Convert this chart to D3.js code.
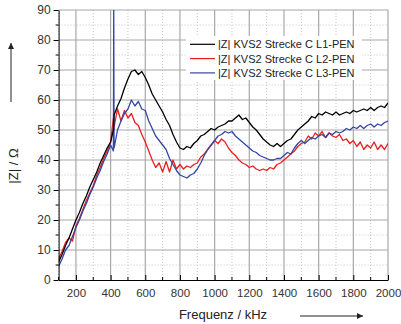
<!DOCTYPE html>
<html>
<head>
<meta charset="utf-8">
<script src="https://cdn.jsdelivr.net/npm/d3@7"></script>
<style>
  html, body { margin: 0; padding: 0; background: #fff; }
  svg { display: block; font-family: "Liberation Sans", Arial, sans-serif; }
</style>
</head>
<body>
<svg id="chart" width="401" height="324"></svg>
<script>
// frequency grid in kHz (extra points around the 418 kHz spike)
const freq = [100,120,140,160,180,200,220,240,260,280,300,320,340,360,380,400,416,418,420,
  440,460,480,500,520,540,560,580,600,620,640,660,680,700,720,740,760,780,800,820,840,860,880,
  900,920,940,960,980,1000,1020,1040,1060,1080,1100,1120,1140,1160,1180,1200,1220,1240,1260,
  1280,1300,1320,1340,1360,1380,1400,1420,1440,1460,1480,1500,1520,1540,1560,1580,1600,1620,
  1640,1660,1680,1700,1720,1740,1760,1780,1800,1820,1840,1860,1880,1900,1920,1940,1960,1980,2000];

const zL1 = [6,8.5,11.5,14,17,20,22.5,25.5,28,31,33.5,36,39,41.5,44,46,50,52,55,
  58,60.5,64,67,69.5,70,68.5,69.5,67.5,65,62,60,58,56,53.5,51.5,48.5,46,44,43.5,44.5,44,45.5,
  46.5,48,48.5,49.5,50.5,50,51,51.5,52,53,53,54,55,53.5,54,52.5,51,50,48.5,
  47,46,45,44.5,45.5,44.5,45.5,46.5,47,48.5,50,51,52,53,54.5,54,55.5,55,
  56,55.5,55,56,55,55.5,56,55.5,56.5,56,56.5,57,56.5,57.5,56.5,57.5,58,57.5,59];

const zL2 = [7,9.5,12.5,14,13,18,20.5,23.5,26.5,29,31.5,35,37.5,40.5,43,46,54,50,51,
  57,53,56.5,54,55.5,52.5,51.5,48.5,46,43,40,37.5,39,36,39.5,36,40,37,38.5,37,38,37.5,38.5,
  39,41,42,43.5,45,46.5,45.5,47,46,44,42.5,41.5,40,39,38.5,37.5,38,37,36.5,
  37,36.5,37.5,37,38.5,39,40,41,42,43,44.5,45.5,46,48,47,49,48,49.5,
  47.5,49,48,47.5,48.5,46.5,47,45.5,46.5,44.5,46,43.5,45,44,46,43.5,45,43.5,45.5];

const zL3 = [4.5,7,10,11.5,14.5,17.5,20,23,25.5,28.5,31,34,36.5,39.5,42,45,43,92,44,
  50,53,55.5,57,60,58,59.5,57,56.5,53,50.5,48,46.5,45,43.5,40.5,38.5,36.5,35,34.5,34,35,35.5,
  37,39,41.5,43.5,45,46.5,48,48.5,49.5,49,49.5,48,47,46,45,44,43,42.5,41.5,
  41,40.5,40,40,40.5,40.5,41.5,42.5,42,44,45.5,46.5,45.5,46.5,47.5,47,48,48.5,
  47.5,49,48.5,49.5,49,49.5,50.5,50,51,50.5,51.5,50.5,51.5,52,51,52,51.5,52.5,53];

const seriesNames = ["|Z| KVS2 Strecke C L1-PEN", "|Z| KVS2 Strecke C L2-PEN", "|Z| KVS2 Strecke C L3-PEN"];
const seriesColors = ["#000000", "#ee1d1d", "#3445a4"];
const xTicks = [200,400,600,800,1000,1200,1400,1600,1800,2000];
const yTicks = [0,10,20,30,40,50,60,70,80,90];

const pL = 58.6, pR = 388, pT = 10, pB = 280;

const svg = d3.select("#chart");

const x = d3.scaleLinear().domain([100, 2000]).range([pL, pR]);
const y = d3.scaleLinear().domain([0, 90]).range([pB, pT]);

// minor grid (dotted)
const minorX = d3.range(100, 2001, 100).filter(v => v % 200 !== 0);
const minorY = d3.range(5, 90, 10);
const grid = svg.append("g");
grid.selectAll(".mx").data(minorX).enter().append("line")
  .attr("x1", d => x(d)).attr("x2", d => x(d))
  .attr("y1", pT).attr("y2", pB)
  .attr("stroke", "#c4c4c4").attr("stroke-width", 1).attr("stroke-dasharray", "1,2");
grid.selectAll(".my").data(minorY).enter().append("line")
  .attr("x1", pL).attr("x2", pR)
  .attr("y1", d => y(d)).attr("y2", d => y(d))
  .attr("stroke", "#c4c4c4").attr("stroke-width", 1).attr("stroke-dasharray", "1,2");

// major grid
grid.selectAll(".gx").data(xTicks).enter().append("line")
  .attr("x1", d => x(d)).attr("x2", d => x(d))
  .attr("y1", pT).attr("y2", pB)
  .attr("stroke", "#a8a8a8").attr("stroke-width", 1.2);
grid.selectAll(".gy").data(yTicks.filter(v => v > 0)).enter().append("line")
  .attr("x1", pL).attr("x2", pR)
  .attr("y1", d => y(d)).attr("y2", d => y(d))
  .attr("stroke", "#a8a8a8").attr("stroke-width", 1.2);

// curves
const defs = svg.append("defs");
defs.append("clipPath").attr("id", "clip")
  .append("rect").attr("x", pL).attr("y", pT).attr("width", pR - pL).attr("height", pB - pT);

const line = d3.line().x((d, i) => x(freq[i])).y(d => y(d));
const plot = svg.append("g").attr("clip-path", "url(#clip)");
const drawOrder = [[zL2, 1], [zL3, 2], [zL1, 0]];
drawOrder.forEach(([s, idx]) => {
  plot.append("path").datum(s)
    .attr("d", line)
    .attr("fill", "none")
    .attr("stroke", seriesColors[idx])
    .attr("stroke-width", 1.3)
    .attr("stroke-linejoin", "round");
});

// legend
const lg = svg.append("g");
lg.append("rect").attr("x", 186).attr("y", 36).attr("width", 176).attr("height", 44).attr("fill", "#fff");
seriesNames.forEach((name, i) => {
  const ly = 44.3 + i * 14.3;
  lg.append("line").attr("x1", 190).attr("x2", 215).attr("y1", ly).attr("y2", ly)
    .attr("stroke", seriesColors[i]).attr("stroke-width", 1.2);
  lg.append("text").attr("x", 218).attr("y", ly + 4).attr("font-size", 11).attr("fill", "#222").text(name);
});

// axes
const fmt = d3.format("d");
const xAxis = d3.axisBottom(x).tickValues(xTicks).tickFormat(fmt).tickSizeInner(-5).tickSizeOuter(0).tickPadding(9);
const gx = svg.append("g").attr("transform", `translate(0,${pB})`).call(xAxis);
gx.select(".domain").attr("stroke", "#000");
gx.selectAll(".tick line").attr("stroke", "#000");
gx.selectAll(".tick text").attr("font-size", 11.5).attr("fill", "#333").attr("font-family", "Liberation Sans, Arial, sans-serif");
svg.append("g").selectAll("line").data(minorX).enter().append("line")
  .attr("x1", d => x(d)).attr("x2", d => x(d)).attr("y1", pB).attr("y2", pB - 3)
  .attr("stroke", "#000");

const yAxis = d3.axisLeft(y).tickValues(yTicks).tickFormat(fmt).tickSizeInner(5).tickSizeOuter(0).tickPadding(3);
const gy = svg.append("g").attr("transform", `translate(${pL},0)`).call(yAxis);
gy.select(".domain").attr("stroke", "#000");
gy.selectAll(".tick line").attr("stroke", "#000");
gy.selectAll(".tick text").attr("font-size", 12).attr("fill", "#333").attr("font-family", "Liberation Sans, Arial, sans-serif");
svg.append("g").selectAll("line").data(minorY).enter().append("line")
  .attr("x1", pL - 3).attr("x2", pL).attr("y1", d => y(d)).attr("y2", d => y(d))
  .attr("stroke", "#000");

// axis titles and arrows
svg.append("text").attr("x", 223).attr("y", 319).attr("text-anchor", "middle")
  .attr("font-size", 13).attr("fill", "#222").text("Frequenz / kHz");
svg.append("text").attr("transform", "translate(18,166) rotate(-90)").attr("text-anchor", "middle")
  .attr("font-size", 13).attr("fill", "#222").text("|Z| / Ω");

const mk = defs.append("marker").attr("id", "arr")
  .attr("viewBox", "0 0 10 10").attr("refX", 10).attr("refY", 5)
  .attr("markerWidth", 9).attr("markerHeight", 6).attr("markerUnits", "userSpaceOnUse")
  .attr("orient", "auto");
mk.append("path").attr("d", "M0,0 L10,5 L0,10 z").attr("fill", "#222");
svg.append("line").attr("x1", 11).attr("x2", 11).attr("y1", 102).attr("y2", 43)
  .attr("stroke", "#222").attr("stroke-width", 1).attr("marker-end", "url(#arr)");
svg.append("line").attr("x1", 300).attr("x2", 363).attr("y1", 316).attr("y2", 316)
  .attr("stroke", "#222").attr("stroke-width", 1).attr("marker-end", "url(#arr)");
</script>
</body>
</html>
